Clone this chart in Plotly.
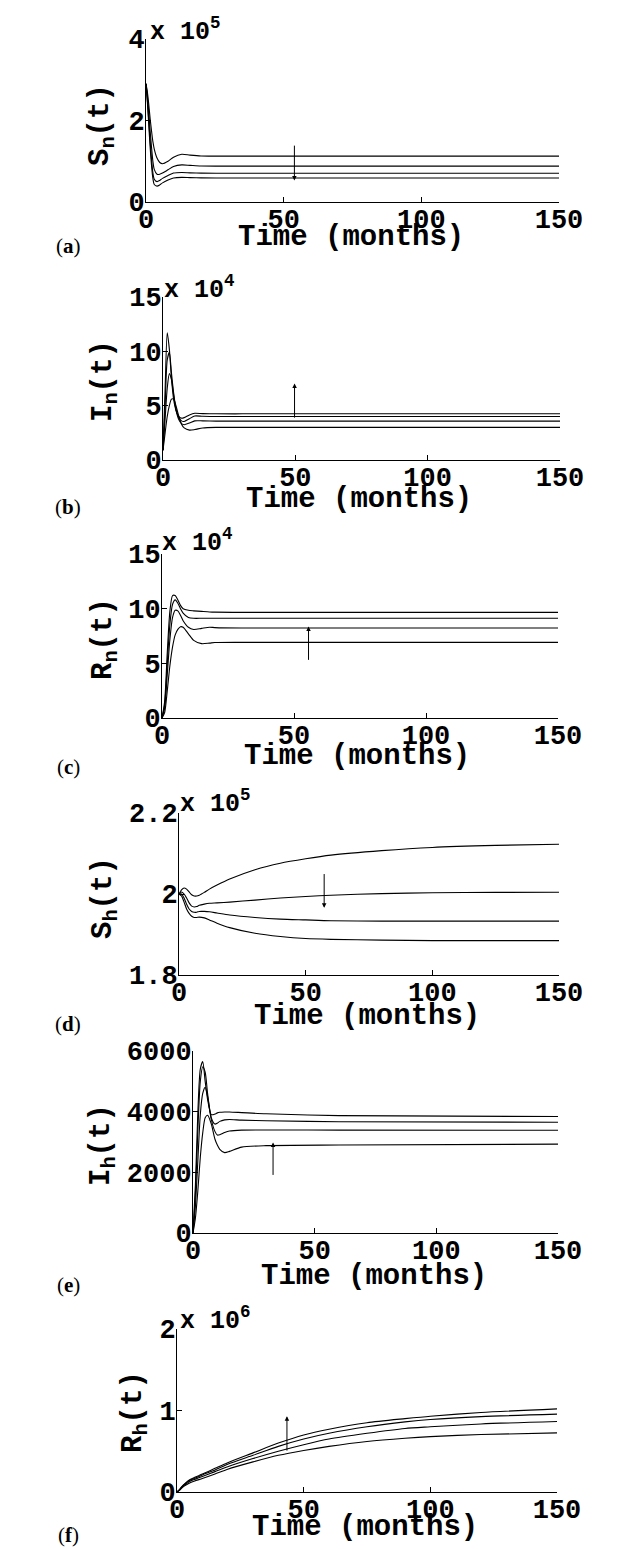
import plotly.graph_objects as go

# page body keeps its default 8px margin, so the figure is drawn 8px in
OFF = 8
W, H = 628 - OFF, 1549 - OFF

# ---------------- data ----------------
# (a) S_n(t)
t_a = [0, 0.5, 1, 1.5, 2, 2.5, 3, 4, 5, 6, 8, 10, 13, 16, 20, 30, 50, 150]
sn_1 = [2.9e5, 2.7e5, 2.4e5, 2.05e5, 1.75e5, 1.48e5, 1.3e5, 1.08e5, 0.97e5, 0.94e5, 1.0e5, 1.1e5, 1.17e5, 1.15e5, 1.13e5, 1.125e5, 1.125e5, 1.125e5]
sn_2 = [2.9e5, 2.6e5, 2.2e5, 1.75e5, 1.35e5, 1.0e5, 0.8e5, 0.68e5, 0.68e5, 0.71e5, 0.79e5, 0.87e5, 0.91e5, 0.9e5, 0.885e5, 0.88e5, 0.88e5, 0.88e5]
sn_3 = [2.9e5, 2.5e5, 2.0e5, 1.5e5, 1.05e5, 0.72e5, 0.56e5, 0.5e5, 0.53e5, 0.58e5, 0.65e5, 0.71e5, 0.725e5, 0.715e5, 0.708e5, 0.706e5, 0.706e5, 0.706e5]
sn_4 = [2.9e5, 2.45e5, 1.9e5, 1.35e5, 0.9e5, 0.58e5, 0.43e5, 0.39e5, 0.42e5, 0.47e5, 0.54e5, 0.59e5, 0.605e5, 0.597e5, 0.592e5, 0.59e5, 0.59e5, 0.59e5]

# (b) I_n(t)
t_b = [0, 0.8, 1.6, 2.4, 3.2, 4, 5, 6, 7, 8, 10, 12, 15, 20, 30, 150]
in_1 = [0.9e4, 6.5e4, 11.7e4, 10.2e4, 7.5e4, 5.6e4, 4.5e4, 4.0e4, 3.85e4, 3.9e4, 4.15e4, 4.3e4, 4.27e4, 4.25e4, 4.25e4, 4.25e4]
in_2 = [0.9e4, 5.0e4, 9.2e4, 9.9e4, 8.0e4, 6.2e4, 4.6e4, 3.9e4, 3.6e4, 3.55e4, 3.8e4, 4.05e4, 4.02e4, 4.0e4, 4.0e4, 4.0e4]
in_3 = [0.9e4, 3.8e4, 6.6e4, 7.95e4, 7.4e4, 6.0e4, 4.5e4, 3.7e4, 3.35e4, 3.25e4, 3.4e4, 3.6e4, 3.6e4, 3.58e4, 3.58e4, 3.58e4]
in_4 = [0.9e4, 2.5e4, 4.0e4, 5.0e4, 5.6e4, 5.6e4, 4.9e4, 4.0e4, 3.3e4, 2.95e4, 2.75e4, 2.8e4, 2.95e4, 3.0e4, 3.0e4, 3.0e4]

# (c) R_n(t)
t_c = [0, 1, 2, 3, 4, 5, 6, 7, 8, 10, 12, 15, 18, 20, 30, 150]
rn_1 = [0, 1.5e4, 6.0e4, 9.8e4, 11.2e4, 11.2e4, 10.8e4, 10.3e4, 10.0e4, 9.85e4, 9.8e4, 9.75e4, 9.7e4, 9.68e4, 9.66e4, 9.66e4]
rn_2 = [0, 1.2e4, 5.0e4, 8.6e4, 10.4e4, 10.8e4, 10.5e4, 10.0e4, 9.6e4, 9.2e4, 9.12e4, 9.12e4, 9.12e4, 9.12e4, 9.12e4, 9.12e4]
rn_3 = [0, 0.9e4, 4.0e4, 7.2e4, 9.2e4, 9.85e4, 9.8e4, 9.4e4, 8.9e4, 8.3e4, 8.1e4, 8.2e4, 8.3e4, 8.27e4, 8.23e4, 8.23e4]
rn_4 = [0, 0.5e4, 2.5e4, 4.8e4, 6.5e4, 7.6e4, 8.1e4, 8.35e4, 8.3e4, 7.7e4, 7.1e4, 6.8e4, 6.85e4, 6.9e4, 6.92e4, 6.92e4]

# (d) S_h(t)
t_d = [0, 1, 2, 3, 4, 5, 6, 7, 8, 10, 12, 15, 20, 30, 40, 50, 60, 80, 100, 125, 150]
sh_1 = [2.0e5, 2.01e5, 2.015e5, 2.012e5, 2.005e5, 1.998e5, 1.995e5, 1.995e5, 1.997e5, 2.004e5, 2.012e5, 2.022e5, 2.037e5, 2.060e5, 2.076e5, 2.087e5, 2.096e5, 2.107e5, 2.115e5, 2.120e5, 2.123e5]
sh_2 = [2.0e5, 2.005e5, 2.0e5, 1.99e5, 1.978e5, 1.97e5, 1.968e5, 1.969e5, 1.972e5, 1.975e5, 1.977e5, 1.978e5, 1.980e5, 1.985e5, 1.990e5, 1.994e5, 1.997e5, 2.001e5, 2.003e5, 2.004e5, 2.0045e5]
sh_3 = [2.0e5, 2.0e5, 1.99e5, 1.975e5, 1.963e5, 1.957e5, 1.955e5, 1.955e5, 1.957e5, 1.957e5, 1.956e5, 1.953e5, 1.948e5, 1.942e5, 1.938e5, 1.936e5, 1.934e5, 1.933e5, 1.933e5, 1.933e5, 1.933e5]
sh_4 = [2.0e5, 1.995e5, 1.98e5, 1.963e5, 1.952e5, 1.945e5, 1.942e5, 1.942e5, 1.943e5, 1.941e5, 1.936e5, 1.928e5, 1.917e5, 1.903e5, 1.895e5, 1.890e5, 1.888e5, 1.886e5, 1.885e5, 1.885e5, 1.885e5]

# (e) I_h(t)
t_e = [0, 1, 2, 3, 4, 5, 6, 7.5, 9, 10, 11, 13, 15, 20, 30, 60, 150]
ih_1 = [0, 1600, 4000, 5400, 5650, 5000, 4400, 3900, 3920, 3960, 3980, 3990, 3990, 3970, 3930, 3870, 3839]
ih_2 = [0, 1300, 3400, 5000, 5480, 5300, 4600, 3800, 3590, 3620, 3680, 3730, 3740, 3720, 3700, 3670, 3652]
ih_3 = [0, 900, 2400, 3900, 4600, 4800, 4500, 3750, 3350, 3230, 3240, 3310, 3360, 3390, 3395, 3392, 3389]
ih_4 = [0, 500, 1400, 2500, 3300, 3800, 3880, 3600, 3100, 2900, 2760, 2650, 2690, 2830, 2880, 2900, 2929]

# (f) R_h(t)
t_f = [0, 1, 2, 3, 5, 7, 10, 15, 20, 30, 40, 50, 60, 75, 90, 100, 120, 150]
rh_1 = [0, 0.03e6, 0.07e6, 0.10e6, 0.15e6, 0.18e6, 0.22e6, 0.29e6, 0.36e6, 0.48e6, 0.60e6, 0.70e6, 0.77e6, 0.85e6, 0.90e6, 0.93e6, 0.975e6, 1.02e6]
rh_2 = [0, 0.03e6, 0.065e6, 0.095e6, 0.14e6, 0.17e6, 0.21e6, 0.27e6, 0.34e6, 0.45e6, 0.56e6, 0.65e6, 0.72e6, 0.80e6, 0.86e6, 0.89e6, 0.925e6, 0.955e6]
rh_3 = [0, 0.025e6, 0.06e6, 0.085e6, 0.13e6, 0.155e6, 0.19e6, 0.25e6, 0.31e6, 0.41e6, 0.50e6, 0.58e6, 0.65e6, 0.72e6, 0.78e6, 0.80e6, 0.835e6, 0.865e6]
rh_4 = [0, 0.02e6, 0.05e6, 0.075e6, 0.11e6, 0.135e6, 0.165e6, 0.22e6, 0.28e6, 0.37e6, 0.45e6, 0.51e6, 0.56e6, 0.62e6, 0.66e6, 0.68e6, 0.705e6, 0.725e6]

x_ticks = [0, 50, 100, 150]
x_ticktext = ["0", "50", "100", "150"]

y_ticks_a = [0, 2e5, 4e5];        y_text_a = ["0", "2", "4"]
y_ticks_b = [0, 5e4, 10e4, 15e4]; y_text_b = ["0", "5", "10", "15"]
y_ticks_c = [0, 5e4, 10e4, 15e4]; y_text_c = ["0", "5", "10", "15"]
y_ticks_d = [1.8e5, 2.0e5, 2.2e5]; y_text_d = ["1.8", "2", "2.2"]
y_ticks_e = [0, 2000, 4000, 6000]; y_text_e = ["0", "2000", "4000", "6000"]
y_ticks_f = [0, 1e6, 2e6];        y_text_f = ["0", "1", "2"]

y_titles = ["S<sub>n</sub>(t)", "I<sub>n</sub>(t)", "R<sub>n</sub>(t)",
            "S<sub>h</sub>(t)", "I<sub>h</sub>(t)", "R<sub>h</sub>(t)"]
exponents = ["x 10<sup>5</sup>", "x 10<sup>4</sup>", "x 10<sup>4</sup>",
             "x 10<sup>5</sup>", None, "x 10<sup>6</sup>"]
panel_letters = ["a", "b", "c", "d", "e", "f"]

# arrows: (t, tail value, head value)
arrow_a = (53.9, 1.42e5, 0.53e5)
arrow_b = (49.7, 3.76e4, 7.04e4)
arrow_c = (55.5, 5.18e4, 8.38e4)
arrow_d = (57.3, 2.053e5, 1.966e5)
arrow_e = (32.9, 1865, 2983)
arrow_f = (43.4, 0.49e6, 0.93e6)

# ---------------- layout (pixel boxes, page coordinates) ----------------
boxes = [  # x0, x1, ytop, ybottom
    (146, 559, 39, 202),
    (163, 560, 297, 460),
    (162, 558, 554, 718),
    (179, 559, 813, 975),
    (193, 558, 1051, 1233),
    (177, 557, 1329, 1492),
]
yranges = [(0, 4e5), (0, 15e4), (0, 15e4), (1.8e5, 2.2e5), (0, 6000), (0, 2e6)]
ytitle_pos = [(102, 125), (105, 381), (105, 639), (105, 898), (103, 1145), (135, 1412)]
xtitle_pos = [(351, 238), (359, 499), (357, 756), (367, 1016), (374, 1276), (365, 1527)]
exp_pos = [(148, 30), (162, 288), (160, 541), (178, 802), None, (178, 1319)]
label_pos = [(68, 246), (68, 507), (68, 767), (68, 1024), (68, 1285), (68, 1535)]

times = [t_a, t_b, t_c, t_d, t_e, t_f]
series = [
    [sn_1, sn_2, sn_3, sn_4],
    [in_1, in_2, in_3, in_4],
    [rn_1, rn_2, rn_3, rn_4],
    [sh_1, sh_2, sh_3, sh_4],
    [ih_1, ih_2, ih_3, ih_4],
    [rh_1, rh_2, rh_3, rh_4],
]
yticks = [(y_ticks_a, y_text_a), (y_ticks_b, y_text_b), (y_ticks_c, y_text_c),
          (y_ticks_d, y_text_d), (y_ticks_e, y_text_e), (y_ticks_f, y_text_f)]
arrows = [arrow_a, arrow_b, arrow_c, arrow_d, arrow_e, arrow_f]

MONO = "Liberation Mono"
tick_font = dict(family=MONO, size=27, color="black", weight="bold")
title_font = dict(family=MONO, size=29, color="black", weight="bold")

fig = go.Figure()
layout = dict(
    width=W, height=H, margin=dict(l=0, r=0, t=0, b=0, autoexpand=False),
    paper_bgcolor="white", plot_bgcolor="white", showlegend=False,
)
annotations = []

def px_x(x):
    return (x - OFF) / W

def px_y(y):
    return 1 - (y - OFF) / H

for i in range(6):
    n = i + 1
    xa = "x" if n == 1 else f"x{n}"
    ya = "y" if n == 1 else f"y{n}"
    for s in series[i]:
        fig.add_trace(go.Scatter(
            x=times[i], y=s, mode="lines",
            line=dict(color="black", width=1.1, shape="spline", smoothing=0.7),
            xaxis=xa, yaxis=ya, hoverinfo="skip",
        ))
    x0, x1, yt, yb = boxes[i]
    layout[f"xaxis{n}"] = dict(
        domain=[px_x(x0), px_x(x1)], range=[0, 150], anchor=ya,
        tickvals=x_ticks, ticktext=x_ticktext, ticks="inside", ticklen=5,
        tickcolor="black", showline=True, linecolor="black", linewidth=1,
        showgrid=False, zeroline=False, tickfont=tick_font,
        automargin=False, ticklabelstandoff=-7,
    )
    tv, tt = yticks[i]
    layout[f"yaxis{n}"] = dict(
        domain=[px_y(yb), px_y(yt)], range=list(yranges[i]), anchor=xa,
        tickvals=tv, ticktext=tt, ticks="inside", ticklen=5,
        tickcolor="black", showline=True, linecolor="black", linewidth=1,
        showgrid=False, zeroline=False, tickfont=tick_font,
        automargin=False, ticklabelstandoff=-5,
    )
    # arrow
    at, av0, av1 = arrows[i]
    annotations.append(dict(
        x=at, y=av1, ax=at, ay=av0, xref=xa, yref=ya, axref=xa, ayref=ya,
        text="", showarrow=True, arrowhead=2, arrowsize=0.9, arrowwidth=1,
        arrowcolor="black", standoff=0, startstandoff=0,
    ))
    # y title
    tx, ty = ytitle_pos[i]
    annotations.append(dict(
        x=px_x(tx), y=px_y(ty), xref="paper", yref="paper", text=y_titles[i],
        textangle=-90, showarrow=False, xanchor="center", yanchor="middle",
        font=title_font,
    ))
    # x title
    tx, ty = xtitle_pos[i]
    annotations.append(dict(
        x=px_x(tx), y=px_y(ty), xref="paper", yref="paper", text="Time (months)",
        showarrow=False, xanchor="center", yanchor="middle", font=title_font,
    ))
    # exponent
    if exponents[i] is not None:
        tx, ty = exp_pos[i]
        annotations.append(dict(
            x=px_x(tx), y=px_y(ty), xref="paper", yref="paper", text=exponents[i],
            showarrow=False, xanchor="left", yanchor="middle",
            font=dict(family=MONO, size=25, color="black", weight="bold"),
        ))
    # panel label
    tx, ty = label_pos[i]
    annotations.append(dict(
        x=px_x(tx), y=px_y(ty), xref="paper", yref="paper",
        text=f"(<b>{panel_letters[i]}</b>)",
        showarrow=False, xanchor="center", yanchor="middle",
        font=dict(family="Liberation Serif", size=21, color="black"),
    ))

layout["annotations"] = annotations
fig.update_layout(**layout)
fig.write_html("out.html")
